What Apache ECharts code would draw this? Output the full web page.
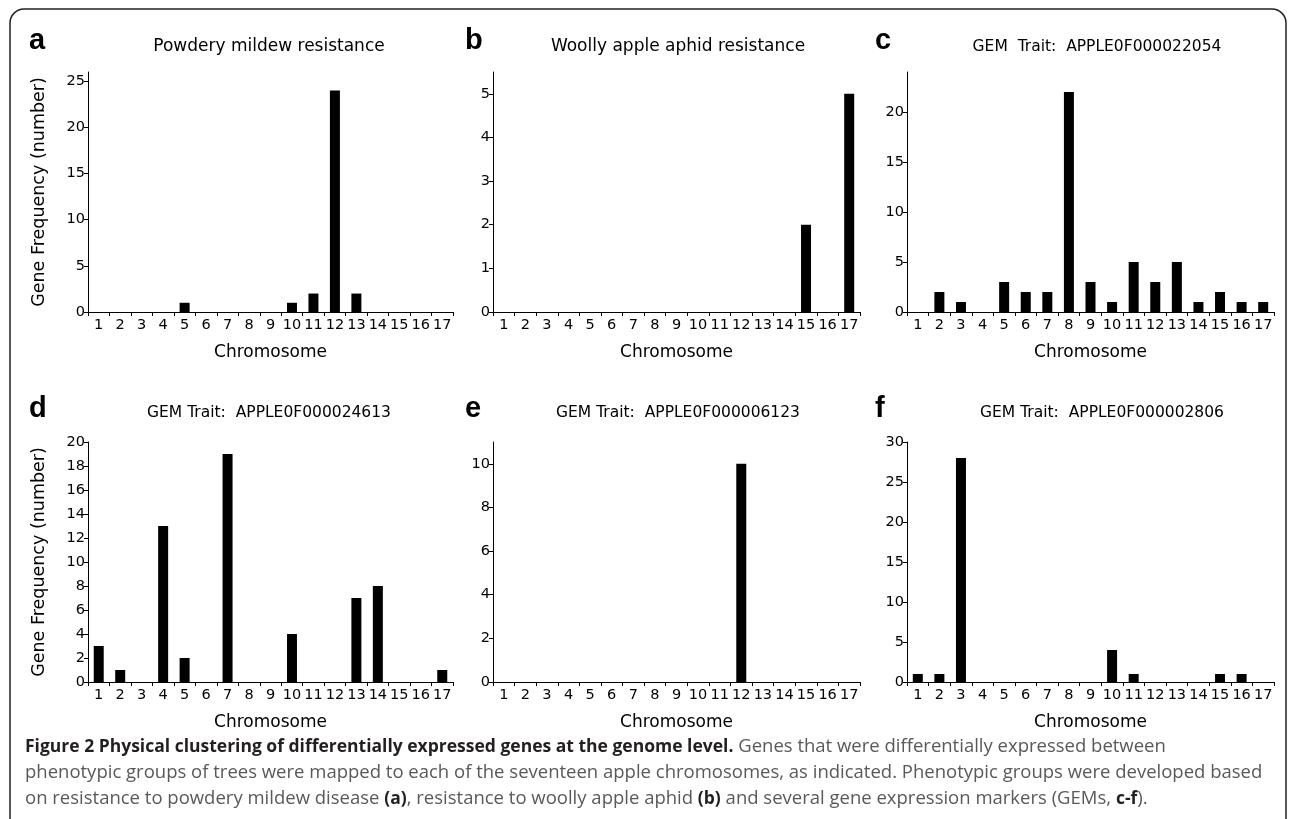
<!DOCTYPE html>
<html>
<head>
<meta charset="utf-8">
<title>Figure 2</title>
<script src="https://cdn.jsdelivr.net/npm/echarts@6.0.0/dist/echarts.min.js"></script>
<style>
  html, body { margin: 0; padding: 0; background: #fff; }
  #chart { width: 1290px; height: 819px; }
</style>
</head>
<body>
<div id="chart"></div>
<script>
  // x categories, same for all six panels
  const chromosomes = ['1', '2', '3', '4', '5', '6', '7', '8', '9', '10', '11', '12', '13', '14', '15', '16', '17']

  // gene counts per chromosome
  const powderyMildew = [0, 0, 0, 0, 1, 0, 0, 0, 0, 1, 2, 24, 2, 0, 0, 0, 0]
  const woollyAphid = [0, 0, 0, 0, 0, 0, 0, 0, 0, 0, 0, 0, 0, 0, 2, 0, 5]
  const gem22054 = [0, 2, 1, 0, 3, 2, 2, 22, 3, 1, 5, 3, 5, 1, 2, 1, 1]
  const gem24613 = [3, 1, 0, 13, 2, 0, 19, 0, 0, 4, 0, 0, 7, 8, 0, 0, 1]
  const gem6123 = [0, 0, 0, 0, 0, 0, 0, 0, 0, 0, 0, 10, 0, 0, 0, 0, 0]
  const gem2806 = [1, 1, 28, 0, 0, 0, 0, 0, 0, 4, 1, 0, 0, 0, 1, 1, 0]

  // y tick labels
  const ticksA = [0, 5, 10, 15, 20, 25]
  const ticksB = [0, 1, 2, 3, 4, 5]
  const ticksC = [0, 5, 10, 15, 20]
  const ticksD = [0, 2, 4, 6, 8, 10, 12, 14, 16, 18, 20]
  const ticksE = [0, 2, 4, 6, 8, 10]
  const ticksF = [0, 5, 10, 15, 20, 25, 30]

  const titles = [
    'Powdery mildew resistance',
    'Woolly apple aphid resistance',
    'GEM  Trait:  APPLE0F000022054',
    'GEM Trait:  APPLE0F000024613',
    'GEM Trait:  APPLE0F000006123',
    'GEM Trait:  APPLE0F000002806',
  ]
  const letters = ['a', 'b', 'c', 'd', 'e', 'f']

  const chartFont = '"DejaVu Sans", Verdana, sans-serif'
  const captionFont = '"Open Sans", sans-serif'

  // layout of each panel (px)
  const panels = [
    { data: powderyMildew, ticks: ticksA, max: 26, left: 88, top: 72, width: 365, titleX: 269, titleY: 38, titleSize: 17, letterX: 29, letterY: 26, yName: true },
    { data: woollyAphid, ticks: ticksB, max: 5.5, left: 493, top: 72, width: 367, titleX: 678, titleY: 38, titleSize: 17, letterX: 465, letterY: 26, yName: false },
    { data: gem22054, ticks: ticksC, max: 24, left: 907, top: 72, width: 367, titleX: 1097, titleY: 39, titleSize: 15.5, letterX: 875, letterY: 26, yName: false },
    { data: gem24613, ticks: ticksD, max: 20, left: 88, top: 442, width: 365, titleX: 269, titleY: 405, titleSize: 15.5, letterX: 29, letterY: 394, yName: true },
    { data: gem6123, ticks: ticksE, max: 11, left: 493, top: 442, width: 367, titleX: 678, titleY: 405, titleSize: 15.5, letterX: 465, letterY: 394, yName: false },
    { data: gem2806, ticks: ticksF, max: 30, left: 907, top: 442, width: 367, titleX: 1102, titleY: 405, titleSize: 15.5, letterX: 875, letterY: 394, yName: false },
  ]

  const grid = []
  const xAxis = []
  const yAxis = []
  const series = []
  const title = []

  panels.forEach((p, i) => {
    grid.push({ left: p.left, top: p.top, width: p.width, height: 240 })
    xAxis.push({
      gridIndex: i,
      type: 'category',
      data: chromosomes,
      boundaryGap: true,
      axisLine: { lineStyle: { color: '#000', width: 1 } },
      axisTick: { show: true, length: 4, lineStyle: { color: '#000' } },
      axisLabel: { interval: 0, color: '#000', fontSize: 14.5, margin: 6, fontFamily: chartFont },
      name: 'Chromosome',
      nameLocation: 'middle',
      nameGap: 32,
      nameTextStyle: { color: '#000', fontSize: 17, fontFamily: chartFont },
    })
    yAxis.push({
      gridIndex: i,
      type: 'value',
      min: 0,
      max: p.max,
      axisLine: { show: true, lineStyle: { color: '#000', width: 1 } },
      axisTick: { show: true, length: 4, customValues: p.ticks, lineStyle: { color: '#000' } },
      axisLabel: { customValues: p.ticks, color: '#000', fontSize: 14.5, margin: 3, fontFamily: chartFont },
      splitLine: { show: false },
      name: p.yName ? 'Gene Frequency (number)' : '',
      nameLocation: 'middle',
      nameGap: 40,
      nameTextStyle: { color: '#000', fontSize: 17.5, fontFamily: chartFont },
    })
    series.push({
      type: 'bar',
      xAxisIndex: i,
      yAxisIndex: i,
      data: p.data,
      barWidth: 10,
      silent: true,
      itemStyle: { color: '#000' },
    })
    title.push({
      text: titles[i],
      left: p.titleX,
      top: p.titleY,
      textAlign: 'center',
      padding: 0,
      textStyle: { color: '#000', fontSize: p.titleSize, fontWeight: 'normal', fontFamily: chartFont },
    })
    title.push({
      text: letters[i],
      left: p.letterX,
      top: p.letterY,
      padding: 0,
      textStyle: { color: '#000', fontSize: 29, fontWeight: 'bold', fontFamily: '"Liberation Sans", Arial, sans-serif' },
    })
  })

  // figure caption
  title.push({
    text: '{b|Figure 2 Physical clustering of differentially expressed genes at the genome level.}{n| Genes that were differentially expressed between}\n' +
      '{n|phenotypic groups of trees were mapped to each of the seventeen apple chromosomes, as indicated. Phenotypic groups were developed based}\n' +
      '{n|on resistance to powdery mildew disease }{b|(a)}{n|, resistance to woolly apple aphid }{b|(b)}{n| and several gene expression markers (GEMs, }{b|c-f}{n|).}',
    left: 25,
    top: 734,
    padding: 0,
    textStyle: {
      fontFamily: captionFont,
      fontWeight: 'normal',
      rich: {
        b: { fontFamily: captionFont, fontSize: 17.5, fontWeight: 'bold', color: '#231f20', lineHeight: 26 },
        n: { fontFamily: captionFont, fontSize: 18.5, fontWeight: 'normal', color: '#58595b', lineHeight: 26 },
      },
    },
  })

  const option = {
    backgroundColor: '#fff',
    animation: false,
    title: title,
    grid: grid,
    xAxis: xAxis,
    yAxis: yAxis,
    series: series,
    graphic: [
      {
        type: 'rect',
        silent: true,
        shape: { x: 10, y: 9, width: 1276, height: 860, r: 14 },
        style: { fill: 'none', stroke: '#222', lineWidth: 1.5 },
      },
    ],
  }

  const chart = echarts.init(document.getElementById('chart'))
  chart.setOption(option)
</script>
</body>
</html>
